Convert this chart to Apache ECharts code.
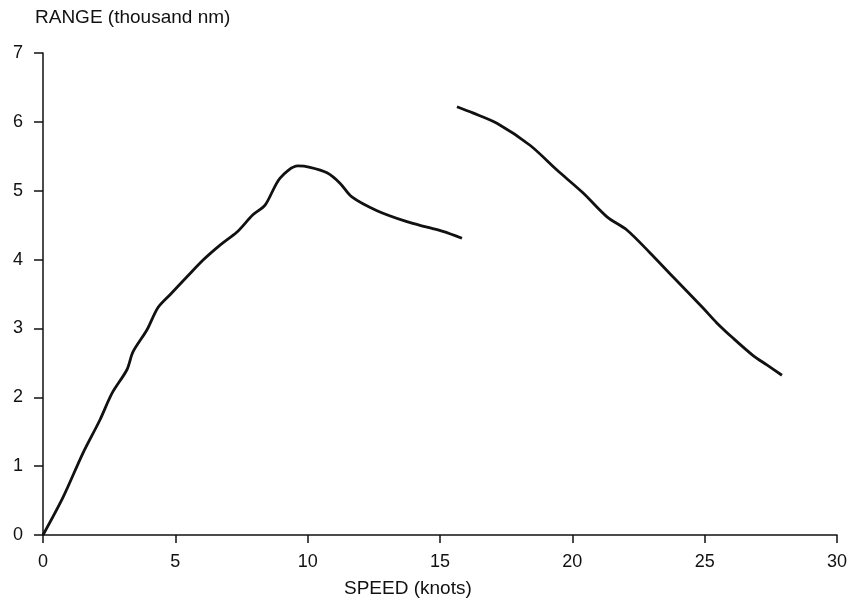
<!DOCTYPE html>
<html>
<head>
<meta charset="utf-8">
<script src="https://cdn.jsdelivr.net/npm/echarts@6/dist/echarts.min.js"></script>
<style>
  html, body { margin: 0; padding: 0; background: #fff; }
  #range { width: 851px; height: 605px; }
</style>
</head>
<body>
<div id="range"></div>
<script>
var chartDom = document.getElementById('range');
var myChart = echarts.init(chartDom);
var option;

// speed (knots) / range (thousand nm)
var lowSpeed = [0, 0.76, 1.51, 2.15, 2.61, 3.17, 3.40, 3.93, 4.34, 4.80, 5.44, 6.04, 6.69, 7.33, 7.93, 8.39, 8.95, 9.63, 10.09, 10.73, 11.22, 11.67, 12.62, 13.75, 14.51, 15.11, 15.83];
var lowRange = [0, 0.55, 1.19, 1.67, 2.06, 2.40, 2.66, 2.98, 3.30, 3.49, 3.75, 3.99, 4.21, 4.40, 4.65, 4.79, 5.18, 5.36, 5.34, 5.26, 5.11, 4.91, 4.71, 4.55, 4.47, 4.41, 4.31];
var highSpeed = [15.64, 16.24, 17.15, 18.40, 19.42, 20.40, 21.31, 22.06, 22.93, 23.80, 24.93, 25.46, 26.07, 26.82, 27.35, 27.92];
var highRange = [6.22, 6.13, 5.98, 5.66, 5.30, 4.97, 4.62, 4.43, 4.10, 3.75, 3.30, 3.08, 2.86, 2.61, 2.47, 2.32];

var xTicks = [0, 5, 10, 15, 20, 25, 30];
var yTicks = [0, 1, 2, 3, 4, 5, 6, 7];

function pairs(xs, ys) {
  var out = [];
  for (var i = 0; i < xs.length; i++) {
    out.push([xs[i], ys[i]]);
  }
  return out;
}

var ink = '#111';
var font = 'Liberation Sans, Arial, sans-serif';

option = {
  animation: false,
  backgroundColor: '#fff',
  grid: {
    left: 43,
    right: 14,
    top: 53,
    bottom: 70
  },
  xAxis: {
    type: 'value',
    min: xTicks[0],
    max: xTicks[xTicks.length - 1],
    interval: 5,
    splitLine: { show: false },
    axisLine: { lineStyle: { color: ink, width: 1.5 } },
    axisTick: { length: 8, lineStyle: { color: ink, width: 1.5 } },
    axisLabel: { color: ink, fontSize: 18, fontFamily: font, margin: 18 }
  },
  yAxis: {
    type: 'value',
    min: yTicks[0],
    max: yTicks[yTicks.length - 1],
    interval: 1,
    splitLine: { show: false },
    axisLine: { show: true, lineStyle: { color: ink, width: 1.5 } },
    axisTick: { show: true, length: 9, lineStyle: { color: ink, width: 1.5 } },
    axisLabel: { color: ink, fontSize: 18, fontFamily: font, margin: 20 }
  },
  graphic: [
    {
      type: 'text',
      left: 35,
      top: 8,
      style: { text: 'RANGE (thousand nm)', fill: ink, fontSize: 19, fontFamily: font }
    },
    {
      type: 'text',
      left: 344,
      top: 579,
      style: { text: 'SPEED (knots)', fill: ink, fontSize: 19, fontFamily: font }
    }
  ],
  series: [
    {
      type: 'line',
      name: 'low',
      smooth: 0.3,
      showSymbol: false,
      data: pairs(lowSpeed, lowRange),
      lineStyle: { color: ink, width: 2.8 }
    },
    {
      type: 'line',
      name: 'high',
      smooth: 0.3,
      showSymbol: false,
      data: pairs(highSpeed, highRange),
      lineStyle: { color: ink, width: 2.8 }
    }
  ]
};

option && myChart.setOption(option);
</script>
</body>
</html>
